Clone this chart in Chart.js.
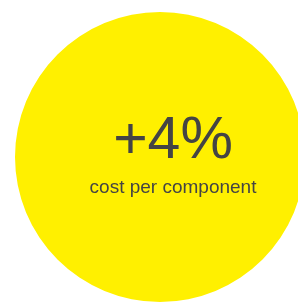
<!DOCTYPE html>
<html><head><meta charset="utf-8">
<script src="https://cdn.jsdelivr.net/npm/chart.js@4"></script>
<style>
html,body{margin:0;padding:0;background:#fff;overflow:hidden;width:298px;height:305px;}
#wrap{position:absolute;left:0;top:0;width:312px;height:305px;}
canvas{display:block;}
.t{position:absolute;left:0;width:346px;text-align:center;color:#444;font-family:"Liberation Sans",Arial,sans-serif;white-space:nowrap;}
#big{top:103px;font-size:59px;line-height:70px;}
#small{top:176px;font-size:19px;line-height:22px;}
</style></head>
<body>
<div id="wrap"><canvas id="c" width="312" height="305"></canvas></div>
<div class="t" id="big"></div>
<div class="t" id="small"></div>
<script>
const categories = ["cost per component"];
const values = [1];
const headline = ["+4%"];
const colors = ["#fff000"];

document.getElementById('big').textContent = headline[0];
document.getElementById('small').textContent = categories[0];

new Chart(document.getElementById('c'), {
  type: 'pie',
  data: { labels: categories, datasets: [{ data: values, backgroundColor: colors, borderWidth: 0 }] },
  options: {
    responsive: false, animation: false, events: [],
    layout: { padding: { left: 15, right: 7, top: 12, bottom: 3 } },
    plugins: { legend: { display: false }, tooltip: { enabled: false } }
  }
});
</script>
</body></html>
